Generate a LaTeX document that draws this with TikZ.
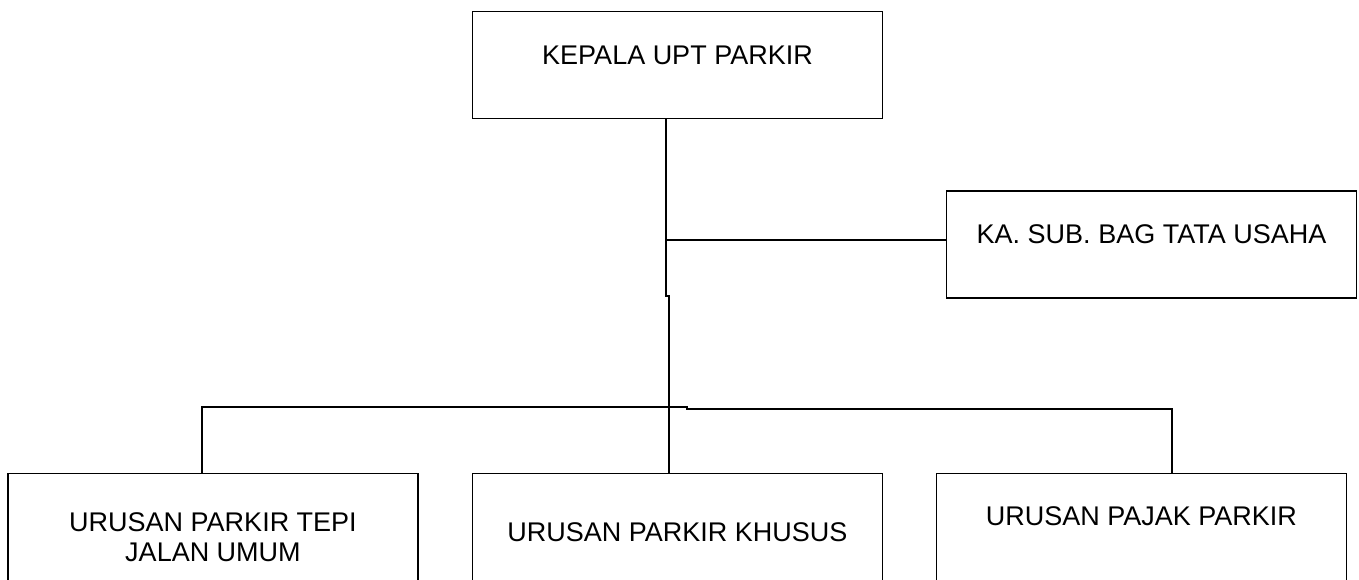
\documentclass[tikz,border=0pt]{standalone}
\usepackage{fontspec}
\setmainfont{Liberation Sans}
\usetikzlibrary{positioning}
\tikzset{
  unitbox/.style={draw, line width=1.6pt, minimum width=410pt, minimum height=107pt,
    inner sep=0pt, text height=20pt, text depth=22pt, align=center,
    font=\fontsize{27}{30}\selectfont},
  link/.style={line width=2pt}
}
\begin{document}
\begin{tikzpicture}[x=1pt,y=-1pt]
    \clip (0,0) rectangle (1359,579);
    % Draw the boxes
    \node[unitbox] (kepala) at (677.5,65) {KEPALA UPT PARKIR};
    \node[unitbox] (tatausaha) at (1151.5,244.7) {KA. SUB. BAG TATA USAHA};
    \node[unitbox, text height=85pt, text depth=15pt] (tepi) at (213,526.8) {URUSAN PARKIR TEPI\\JALAN UMUM};
    \node[unitbox, text height=52pt] (khusus) at (677.3,526.8) {URUSAN PARKIR KHUSUS};
    \node[unitbox] (pajak) at (1141.3,526.8) {URUSAN PAJAK PARKIR};

    % Draw the trunk
    \coordinate (split) at (669,296);
    \coordinate (branch) at (666,240);
    \draw[link] ([xshift=-11.5pt]kepala.south) |- (split) -- (split |- khusus.north);
    \draw[link] (branch) -- (branch -| tatausaha.west);

		% bus to the lower units
    \coordinate (busjog) at (687,407);
    \coordinate (busr) at (1172,409);
    \draw[link] ([xshift=-11pt]tepi.north) |- (busjog) |- (busr) -- (busr |- pajak.north);


\end{tikzpicture}
\end{document}
